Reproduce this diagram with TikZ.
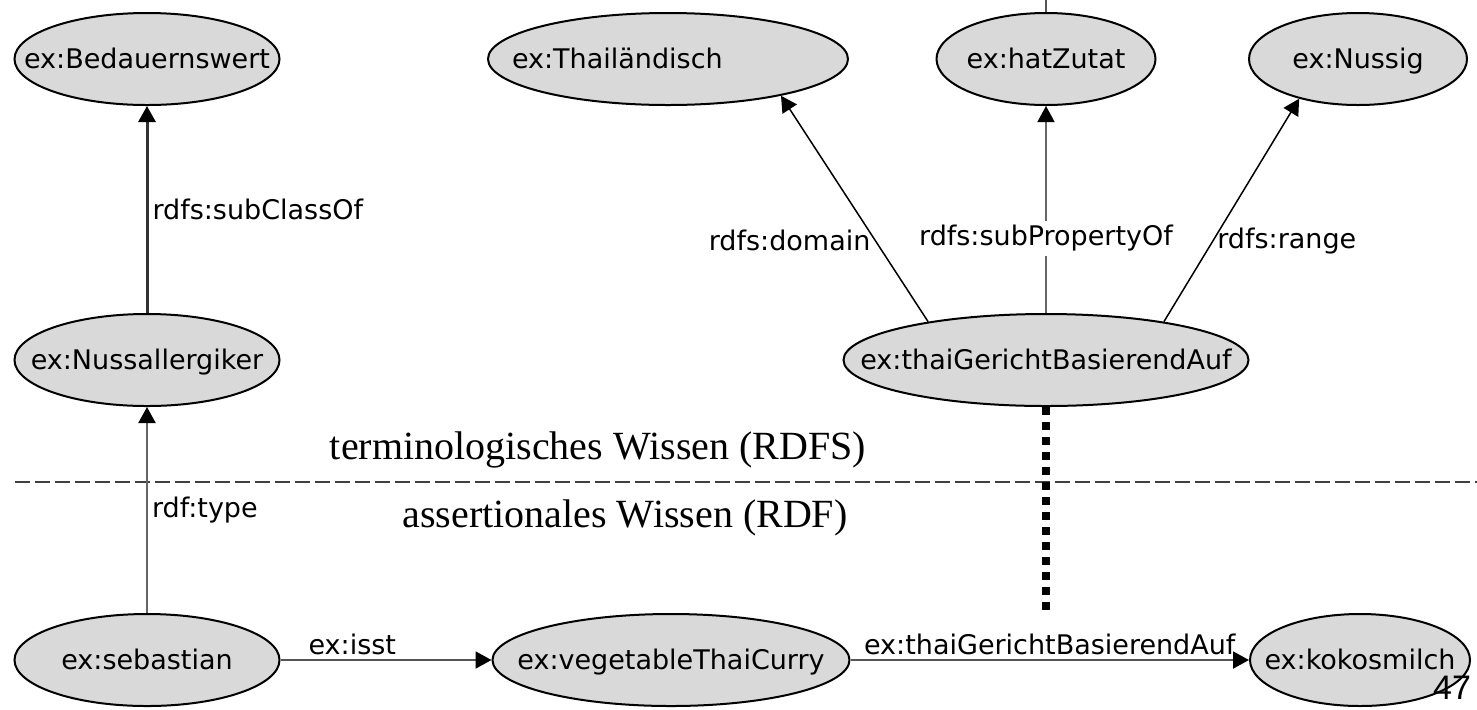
\documentclass[tikz,border=0pt]{standalone}
\usepackage{fontspec}
\setmainfont{DejaVu Sans}
\newfontfamily\capfont{Liberation Serif}
\newfontfamily\numfont{Liberation Sans}
\usetikzlibrary{arrows.meta,shapes.geometric,positioning}
\definecolor{knoten}{HTML}{D9D9D9}
\definecolor{kante}{HTML}{555555}
\newcommand{\kt}[1]{\makebox[0pt]{#1}}
\tikzset{
    begriff/.style = {ellipse,
                    fill=knoten,
                    draw=black,
                    text=black,
                    line width=1pt,
                    inner sep=0pt,
                    minimum height=46pt,
                    text height=9.5pt,
                    text depth=0pt,
                    font=\fontsize{13.5}{16}\selectfont},
    rel/.style =    {draw=kante,
                    line width=1pt},
    schema/.style = {draw=black,
                    line width=0.75pt},
    elabel/.style = {text=black,
                    inner sep=2pt,
                    font=\fontsize{13.5}{16}\selectfont},
    wissen/.style = {text=black,
                    inner sep=0pt,
                    font=\capfont\fontsize{20}{24}\selectfont},
    trenn/.style =  {draw=black!75,
                    line width=1pt,
                    dash pattern=on 7.5pt off 2.5pt},
    punkte/.style = {draw=black,
                    line width=4pt,
                    dash pattern=on 4pt off 3.5pt},
    >={Triangle[length=8pt,width=8.5pt,color=black]},
    x=0.5pt, y=-0.5pt}

\begin{document}
\begin{tikzpicture}
    \useasboundingbox (0,0) rectangle (1477,709);
    % terminologisches Wissen
    \node[begriff, minimum width=132.5pt]   (bedau)   at (147,59)   {\kt{ex:Bedauernswert}};
    \node[begriff, minimum width=132.5pt]   (nussall) at (147,360)  {\kt{ex:Nussallergiker}};
    \node[begriff, minimum width=180pt]     (thai)    at (668,59)   {\makebox[0pt][l]{\hspace*{-78pt}ex:Thailändisch}};
    \node[begriff, minimum width=109.5pt]   (hatz)    at (1046,59)  {\kt{ex:hatZutat}};
    \node[begriff, minimum width=109pt]     (nussig)  at (1358,59)  {\kt{ex:Nussig}};
    \node[begriff, minimum width=202.5pt]   (tgba)    at (1046,360) {\kt{ex:thaiGerichtBasierendAuf}};
    % assertionales Wissen
    \node[begriff, minimum width=132.5pt]   (seb)     at (147,660)  {\kt{ex:sebastian}};
    \node[begriff, minimum width=178.5pt]   (curry)   at (671,660)  {\kt{ex:vegetableThaiCurry}};
    \node[begriff, minimum width=110pt]     (kokos)   at (1360,660) {\kt{ex:kokosmilch}};

    \node[wissen] (termin) at (598,450) {terminologisches Wissen (RDFS)};
    \node[wissen] (assert) at (625,518) {assertionales Wissen (RDF)};
    \node[font=\numfont\fontsize{17}{20}\selectfont, inner sep=0pt] (seite) at (1452,688) {47};

    \coordinate (grenzeL) at (15,482);
    \coordinate (grenzeR) at (1477,482);
    \coordinate (oben)    at (1046,0);
    \coordinate (punktende) at (1046,612);

    \draw[trenn] (grenzeL) -- (grenzeR);
    \draw[rel, line width=0.6pt] (hatz) -- (oben);
    \draw[punkte] (tgba) -- (punktende);

    \path [->]  (nussall) edge [rel, draw=black!80, line width=1.5pt] node [elabel, right] {rdfs:subClassOf} (bedau)
                (seb) edge [rel, draw=black!60] node [elabel, right] {rdf:type} (nussall)
                (tgba.162) edge [schema] node [elabel, left, pos=0.36] {rdfs:domain} (thai.342)
                (tgba) edge [schema, draw=black!60] node [elabel, fill=white, pos=0.36] {rdfs:subPropertyOf} (hatz)
                (tgba.18) edge [schema] node [elabel, right, pos=0.36] {rdfs:range} (nussig.214)
                (seb) edge [rel] node [elabel, above, pos=0.34] {ex:isst} (curry)
                (curry) edge [rel] node [elabel, above] {ex:thaiGerichtBasierendAuf} (kokos);
\end{tikzpicture}
\end{document}
